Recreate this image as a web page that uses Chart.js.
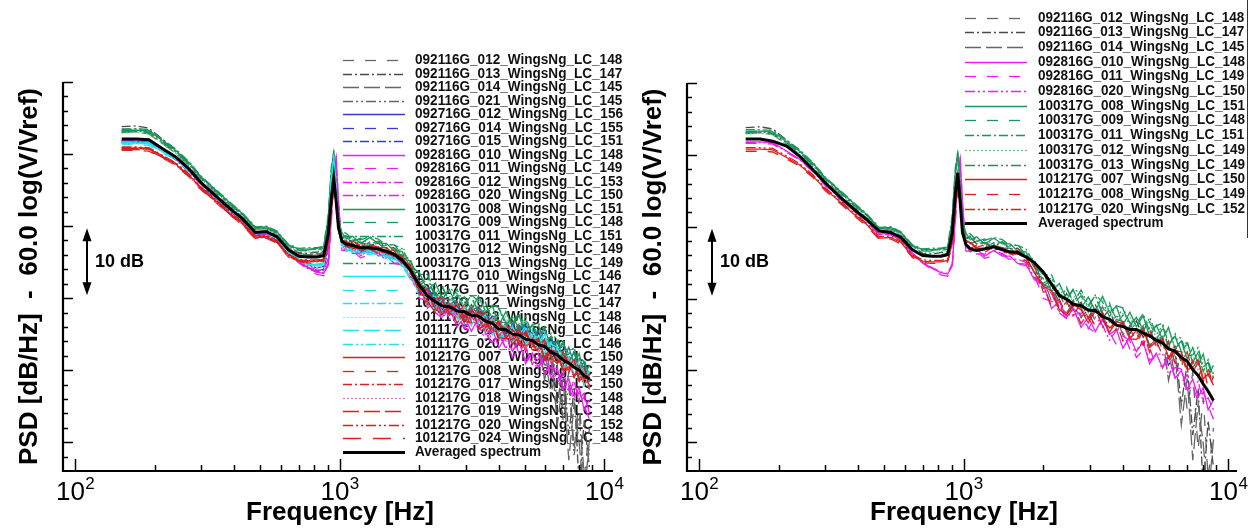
<!DOCTYPE html>
<html>
<head>
<meta charset="utf-8">
<title>PSD spectra</title>
<script src="https://cdn.jsdelivr.net/npm/chart.js@4.4.1/dist/chart.umd.min.js"></script>
<style>
  body { margin: 0; background: #fff; }
  #wrap { position: relative; width: 1251px; height: 532px; overflow: hidden; }
  #wrap canvas { position: absolute; top: 0; }
</style>
</head>
<body>
<div id="wrap">
  <canvas id="psd-left" width="625" height="532" style="left:0"></canvas>
  <canvas id="psd-right" width="626" height="532" style="left:625px"></canvas>
</div>
<script>
// --- Data (dB) ---
const FREQ = [
  150, 170, 190, 215, 240, 270, 300, 340, 380, 430,
  480, 530, 580, 640, 700, 760, 820, 870, 905, 930,
  950, 970, 990, 1020, 1060, 1120, 1200, 1300, 1400, 1500,
  1600, 1720, 1850, 2000, 2150, 2300, 2450, 2600, 2780, 2960,
  3150, 3350, 3560, 3780, 4000, 4250, 4500, 4770, 5050, 5350,
  5650, 5950, 6300, 6650, 7000, 7350, 7700, 8050, 8400, 8800
];

const AVG_LEFT = [
  52.1, 52.1, 52.0, 50.7, 49.6, 47.9, 46.0, 44.2, 42.6, 41.0,
  39.1, 39.2, 38.5, 36.7, 35.8, 35.7, 35.7, 35.9, 38.8, 43.8,
  46.7, 43.5, 39.8, 37.9, 37.5, 37.3, 37.0, 37.0, 36.8, 36.5,
  36.1, 35.3, 33.9, 31.8, 30.3, 29.5, 28.9, 28.8, 28.2, 28.1,
  27.6, 27.5, 26.8, 26.5, 25.7, 25.6, 25.0, 24.9, 24.3, 24.1,
  23.5, 23.3, 22.5, 22.1, 21.4, 21.0, 20.4, 20.0, 19.2, 18.8
];

const AVG_RIGHT = [
  52.2, 52.2, 51.9, 51.2, 49.8, 47.9, 46.1, 44.2, 42.6, 41.0,
  39.4, 39.2, 38.5, 36.8, 36.0, 35.9, 35.9, 36.1, 39.0, 44.5,
  47.5, 43.5, 39.2, 37.5, 36.9, 36.7, 36.9, 37.2, 36.8, 36.5,
  36.4, 35.8, 35.0, 33.7, 32.0, 30.4, 29.9, 29.2, 29.0, 28.4,
  28.3, 27.5, 27.1, 26.3, 26.1, 25.7, 25.7, 25.2, 24.8, 24.2,
  23.8, 23.0, 22.7, 21.8, 21.3, 20.1, 19.3, 18.1, 17.1, 15.8
];

const R092116G_012 = [
  53.2, 53.3, 53.0, 51.6, 50.3, 48.5, 46.6, 44.8, 43.0, 41.5,
  39.8, 39.6, 38.9, 37.0, 36.2, 36.0, 36.1, 36.3, 39.5, 44.6,
  47.3, 44.2, 40.3, 38.5, 37.6, 38.0, 37.0, 37.8, 37.0, 37.0,
  36.0, 35.9, 33.7, 32.8, 29.6, 30.7, 28.5, 29.8, 27.3, 28.8,
  26.9, 28.9, 26.7, 27.5, 24.9, 26.7, 24.7, 26.2, 23.3, 24.9,
  22.9, 24.1, 19.0, 22.4, 14.5, 19.8, 9.0, 16.2, 5.0, 12.0
];
const R092116G_013 = [
  53.8, 53.9, 53.6, 52.0, 50.6, 48.6, 46.8, 45.0, 43.1, 41.6,
  39.7, 39.8, 39.1, 37.3, 36.3, 36.2, 36.4, 36.5, 40.1, 45.3,
  47.8, 44.6, 40.6, 38.3, 38.5, 37.6, 37.7, 37.2, 37.8, 36.9,
  37.0, 35.7, 35.1, 31.4, 31.8, 29.4, 30.7, 28.4, 29.5, 27.2,
  29.1, 27.3, 28.5, 25.7, 26.8, 25.1, 26.9, 24.6, 25.9, 23.4,
  24.9, 20.5, 23.6, 15.2, 21.0, 11.0, 17.5, 3.5, 13.0, 6.5
];
const R092116G_014 = [
  53.0, 53.1, 52.8, 51.4, 50.1, 48.3, 46.5, 44.6, 42.9, 41.2,
  39.5, 39.4, 38.8, 36.9, 36.0, 35.9, 36.0, 36.1, 39.2, 44.2,
  47.0, 44.0, 40.2, 38.1, 37.9, 37.0, 37.0, 37.4, 37.1, 36.3,
  36.3, 35.8, 33.7, 32.0, 31.4, 28.8, 28.0, 29.5, 28.7, 26.9,
  28.6, 27.6, 25.6, 27.1, 26.8, 24.7, 24.6, 26.0, 23.5, 24.3,
  24.7, 18.6, 22.8, 12.4, 18.9, 7.5, 15.4, 9.8, 2.0, 10.4
];
const R092116G_021 = [
  53.4, 53.5, 53.3, 51.8, 50.4, 48.4, 46.7, 44.9, 43.2, 41.4,
  39.6, 39.7, 38.9, 37.1, 36.1, 36.0, 36.2, 36.4, 39.8, 45.0,
  47.5, 44.3, 40.4, 38.0, 38.0, 38.0, 37.0, 37.4, 37.6, 36.7,
  36.2, 36.0, 34.7, 31.1, 30.9, 30.6, 28.2, 29.2, 29.6, 27.6,
  27.1, 28.9, 27.3, 25.7, 26.9, 26.4, 24.2, 25.3, 25.8, 23.4,
  23.5, 21.9, 16.8, 20.6, 13.0, 17.9, 8.2, 14.0, 4.0, 9.0
];
const R092716G_012 = [
  51.6, 51.7, 51.5, 50.4, 49.3, 47.6, 45.8, 43.9, 42.3, 40.6,
  38.8, 38.9, 38.1, 36.2, 35.1, 34.6, 34.2, 34.4, 37.6, 44.5,
  48.0, 44.8, 40.0, 37.4, 37.6, 36.7, 36.8, 36.3, 36.9, 36.0,
  36.1, 34.8, 34.2, 30.9, 31.3, 28.9, 30.2, 27.9, 29.0, 26.7,
  28.6, 26.8, 28.0, 25.2, 26.3, 24.6, 26.4, 24.1, 26.4, 23.9,
  25.4, 22.9, 24.5, 22.3, 23.7, 20.9, 22.6, 20.1, 21.1, 18.4
];
const R092716G_014 = [
  51.9, 51.9, 51.8, 50.5, 49.4, 47.7, 45.9, 44.0, 42.4, 40.8,
  38.9, 39.0, 38.2, 36.3, 35.2, 34.3, 33.8, 34.0, 37.2, 44.0,
  47.6, 44.5, 39.8, 37.7, 37.5, 36.6, 36.6, 37.0, 36.7, 35.9,
  35.9, 35.4, 33.3, 32.4, 31.8, 29.2, 28.4, 29.9, 29.1, 27.3,
  29.0, 28.0, 26.0, 27.5, 27.2, 25.1, 25.0, 26.4, 24.5, 25.3,
  25.7, 23.0, 24.0, 23.9, 21.4, 21.7, 22.8, 19.9, 20.6, 19.0
];
const R092716G_015 = [
  51.7, 51.8, 51.6, 50.3, 49.2, 47.5, 45.7, 43.8, 42.2, 40.7,
  38.7, 38.8, 38.0, 36.1, 35.0, 34.1, 33.6, 33.9, 36.8, 43.6,
  47.4, 44.9, 40.3, 37.3, 37.3, 37.3, 36.3, 36.7, 36.9, 36.0,
  35.5, 35.3, 34.0, 30.8, 30.6, 30.3, 27.9, 28.9, 29.3, 27.3,
  26.8, 28.6, 27.0, 25.4, 26.6, 26.1, 23.9, 25.0, 26.5, 24.1,
  24.2, 25.5, 22.9, 22.2, 23.6, 22.2, 20.3, 21.6, 19.8, 20.6
];
const R092816G_010 = [
  51.8, 51.8, 51.7, 50.5, 49.4, 47.8, 45.9, 44.1, 42.5, 40.9,
  39.0, 39.0, 38.2, 36.3, 35.0, 34.2, 33.6, 33.4, 34.5, 41.0,
  47.5, 49.5, 43.0, 37.4, 36.5, 36.9, 35.9, 36.7, 35.9, 35.9,
  34.9, 34.8, 32.6, 32.0, 28.6, 29.6, 27.4, 28.6, 26.0, 27.4,
  25.4, 27.3, 25.0, 25.7, 23.1, 24.7, 22.6, 24.0, 20.9, 22.4,
  20.3, 22.0, 18.9, 20.0, 17.3, 18.8, 16.3, 17.6, 14.5, 15.9
];
const R092816G_011 = [
  51.6, 51.6, 51.5, 50.3, 49.3, 47.6, 45.7, 43.9, 42.3, 40.7,
  38.8, 38.9, 38.1, 36.2, 34.9, 34.0, 33.3, 33.1, 34.0, 40.2,
  47.0, 49.8, 43.6, 36.6, 36.6, 36.6, 35.6, 36.0, 36.2, 35.3,
  34.8, 34.6, 33.3, 30.0, 29.6, 29.2, 26.8, 27.7, 28.0, 25.9,
  25.3, 27.0, 25.3, 23.6, 24.8, 24.1, 21.8, 22.8, 23.1, 20.6,
  20.6, 21.7, 19.1, 18.2, 19.4, 17.8, 15.7, 17.0, 15.1, 13.2
];
const R092816G_012 = [
  51.9, 52.0, 51.9, 50.6, 49.5, 47.8, 45.9, 44.0, 42.4, 40.8,
  38.9, 39.0, 38.3, 36.4, 35.2, 34.5, 33.9, 33.8, 35.5, 42.2,
  48.0, 48.6, 42.4, 37.1, 37.3, 36.4, 36.5, 36.0, 36.6, 35.7,
  35.8, 34.5, 33.9, 30.5, 30.7, 28.2, 29.5, 27.1, 28.1, 25.7,
  27.5, 25.6, 26.7, 23.8, 24.9, 23.0, 24.7, 22.3, 23.4, 20.8,
  22.2, 19.5, 21.0, 18.7, 19.9, 16.9, 18.4, 15.9, 16.8, 14.0
];
const R092816G_020 = [
  51.7, 51.7, 51.6, 50.4, 49.3, 47.7, 45.8, 44.0, 42.4, 40.8,
  38.9, 38.9, 38.2, 36.3, 35.1, 34.3, 33.7, 33.5, 34.8, 41.5,
  47.2, 49.0, 43.2, 37.3, 37.1, 36.2, 36.2, 36.6, 36.3, 35.5,
  35.5, 35.0, 32.9, 31.5, 30.7, 28.0, 27.2, 28.6, 27.7, 25.8,
  27.4, 26.3, 24.2, 25.6, 25.3, 23.0, 22.8, 24.1, 21.4, 22.1,
  22.4, 19.5, 20.4, 20.2, 17.5, 17.6, 18.5, 15.6, 16.2, 14.5
];
const R100317G_008 = [
  53.3, 53.3, 53.2, 51.8, 50.5, 48.8, 46.8, 45.0, 43.4, 41.7,
  39.8, 39.9, 39.2, 37.4, 36.8, 36.8, 36.9, 37.1, 41.0, 47.5,
  50.5, 46.0, 40.8, 39.1, 38.2, 38.6, 37.6, 38.4, 37.6, 37.6,
  36.6, 36.5, 34.3, 33.6, 31.0, 32.1, 29.9, 31.2, 28.7, 30.2,
  28.3, 30.3, 28.1, 28.9, 26.3, 28.1, 26.1, 27.6, 24.7, 26.3,
  24.3, 26.0, 23.0, 24.1, 21.6, 23.2, 20.8, 22.3, 19.2, 20.7
];
const R100317G_009 = [
  53.0, 53.1, 52.9, 51.5, 50.2, 48.5, 46.6, 44.8, 43.1, 41.5,
  39.6, 39.7, 39.0, 37.2, 36.6, 36.6, 36.7, 36.9, 40.5, 46.8,
  49.8, 45.6, 40.6, 38.4, 38.6, 37.7, 37.8, 37.3, 37.9, 37.0,
  37.1, 35.8, 35.2, 31.7, 32.7, 30.3, 31.6, 29.3, 30.4, 28.1,
  30.0, 28.2, 29.4, 26.6, 27.7, 26.0, 27.8, 25.5, 26.8, 24.3,
  25.8, 23.1, 24.7, 22.4, 23.8, 20.9, 22.5, 20.2, 21.1, 18.4
];
const R100317G_011 = [
  53.5, 53.5, 53.4, 52.0, 50.7, 48.9, 46.9, 45.1, 43.5, 41.8,
  39.9, 40.0, 39.3, 37.5, 36.9, 37.0, 37.0, 37.2, 41.5, 48.2,
  50.2, 45.4, 40.5, 39.2, 39.0, 38.1, 38.1, 38.5, 38.2, 37.4,
  37.4, 36.9, 34.8, 33.3, 33.3, 30.7, 29.9, 31.4, 30.6, 28.8,
  30.5, 29.5, 27.5, 29.0, 28.7, 26.6, 26.5, 27.9, 25.4, 26.2,
  26.6, 23.7, 24.7, 24.5, 22.0, 22.2, 23.2, 20.5, 21.1, 19.5
];
const R100317G_012 = [
  52.9, 53.0, 52.8, 51.4, 50.1, 48.4, 46.5, 44.7, 43.0, 41.4,
  39.5, 39.6, 38.9, 37.1, 36.5, 36.4, 36.5, 36.7, 40.0, 46.0,
  49.2, 45.2, 40.4, 38.2, 38.2, 38.2, 37.2, 37.6, 37.8, 36.9,
  36.4, 36.2, 34.9, 31.5, 31.9, 31.6, 29.2, 30.2, 30.6, 28.6,
  28.1, 29.9, 28.3, 26.7, 27.9, 27.4, 25.2, 26.3, 26.8, 24.4,
  24.5, 25.6, 23.1, 22.2, 23.6, 22.1, 20.1, 21.6, 19.7, 20.5
];
const R100317G_013 = [
  53.1, 53.2, 53.0, 51.6, 50.3, 48.6, 46.7, 44.9, 43.2, 41.6,
  39.7, 39.8, 39.1, 37.3, 36.7, 36.7, 36.8, 37.0, 40.7, 47.2,
  50.0, 45.8, 40.7, 38.6, 38.7, 37.9, 38.3, 37.5, 37.9, 37.3,
  37.5, 36.0, 35.4, 32.1, 32.9, 30.0, 31.4, 29.5, 31.2, 29.1,
  30.4, 27.8, 29.0, 27.2, 28.6, 26.2, 27.4, 25.3, 27.4, 25.0,
  26.2, 23.3, 25.1, 22.6, 24.1, 21.1, 22.5, 19.8, 21.5, 19.0
];
const R101117G_010 = [
  51.5, 51.5, 51.4, 50.3, 49.4, 47.8, 45.9, 44.1, 42.5, 40.9,
  39.0, 39.1, 38.3, 36.4, 35.3, 34.8, 34.6, 34.8, 38.2, 46.5,
  49.2, 45.0, 39.8, 37.1, 37.3, 36.4, 36.5, 36.0, 36.6, 35.7,
  35.8, 34.5, 33.9, 30.3, 31.0, 28.6, 29.9, 27.6, 28.7, 26.4,
  28.3, 26.5, 27.7, 24.9, 26.0, 24.3, 26.1, 23.8, 25.8, 23.3,
  24.8, 22.3, 23.9, 21.7, 22.5, 19.7, 21.4, 19.1, 20.1, 17.4
];
const R101117G_011 = [
  51.3, 51.3, 51.2, 50.1, 49.2, 47.6, 45.8, 44.0, 42.4, 40.8,
  38.9, 39.0, 38.2, 36.3, 35.2, 34.6, 34.4, 34.6, 37.8, 45.8,
  48.8, 44.6, 39.6, 37.4, 36.5, 36.9, 35.9, 36.7, 35.9, 35.9,
  34.9, 34.8, 32.6, 31.8, 28.9, 30.0, 27.8, 29.1, 26.6, 28.1,
  26.2, 28.2, 26.0, 26.8, 24.2, 26.0, 24.0, 25.5, 23.3, 24.9,
  22.9, 24.8, 21.8, 23.0, 19.9, 21.6, 19.3, 20.8, 17.8, 19.3
];
const R101117G_012 = [
  51.6, 51.6, 51.5, 50.4, 49.5, 47.9, 46.0, 44.2, 42.6, 41.0,
  39.1, 39.2, 38.4, 36.5, 35.4, 34.9, 34.7, 34.9, 38.5, 46.9,
  49.5, 45.3, 40.0, 37.2, 37.2, 37.2, 36.2, 36.6, 36.8, 35.9,
  35.4, 35.2, 33.9, 30.4, 30.5, 30.2, 27.8, 28.8, 29.2, 27.2,
  26.7, 28.5, 26.9, 25.3, 26.5, 26.0, 23.8, 24.9, 26.1, 23.7,
  23.8, 25.1, 22.6, 21.8, 22.6, 21.2, 19.3, 20.8, 19.0, 19.8
];
const R101117G_013 = [
  51.4, 51.4, 51.3, 50.2, 49.3, 47.7, 45.8, 44.0, 42.4, 40.8,
  38.9, 39.0, 38.2, 36.3, 35.2, 34.5, 34.3, 34.5, 37.5, 45.2,
  48.6, 44.9, 39.9, 37.1, 36.9, 36.0, 36.0, 36.4, 36.1, 35.3,
  35.3, 34.8, 32.7, 31.1, 30.8, 28.2, 27.4, 28.9, 28.1, 26.3,
  28.0, 27.0, 25.0, 26.5, 26.2, 24.1, 24.0, 25.4, 23.6, 24.4,
  24.8, 22.1, 23.1, 23.0, 19.9, 20.2, 21.3, 18.6, 19.3, 17.7
];
const R101117G_014 = [
  51.5, 51.6, 51.4, 50.3, 49.4, 47.8, 45.9, 44.1, 42.5, 40.9,
  39.0, 39.1, 38.3, 36.4, 35.3, 34.7, 34.5, 34.7, 38.0, 46.2,
  49.0, 45.1, 40.1, 37.6, 36.6, 37.1, 36.4, 36.9, 35.9, 36.2,
  35.3, 35.0, 32.8, 32.2, 29.1, 29.7, 27.6, 29.3, 27.4, 29.1,
  26.6, 27.8, 25.6, 27.4, 25.1, 26.2, 23.6, 25.3, 23.9, 25.6,
  23.3, 25.0, 22.2, 23.2, 20.2, 21.8, 19.3, 20.4, 18.2, 19.9
];
const R101117G_020 = [
  51.7, 51.7, 51.6, 50.4, 49.5, 47.9, 46.0, 44.2, 42.6, 41.0,
  39.1, 39.1, 38.3, 36.4, 35.4, 34.8, 34.6, 34.8, 38.3, 46.0,
  48.9, 44.8, 39.7, 37.6, 36.8, 36.4, 36.8, 36.4, 35.8, 36.1,
  35.8, 34.4, 32.9, 32.2, 29.7, 28.2, 29.8, 28.2, 27.0, 28.4,
  28.3, 25.9, 26.5, 27.1, 24.7, 24.6, 26.0, 24.3, 23.7, 25.3,
  24.4, 22.3, 23.6, 23.2, 20.2, 20.4, 21.5, 18.8, 19.4, 17.6
];
const R101217G_007 = [
  50.8, 50.8, 50.7, 49.6, 48.6, 47.0, 45.2, 43.5, 41.9, 40.3,
  38.4, 38.5, 37.8, 35.9, 35.2, 35.1, 35.1, 35.3, 37.6, 42.6,
  45.5, 43.2, 39.6, 38.0, 37.8, 36.9, 36.9, 37.3, 37.0, 36.2,
  36.2, 35.7, 33.6, 31.7, 31.1, 28.5, 27.7, 29.2, 28.4, 26.6,
  28.3, 27.3, 25.3, 26.8, 26.5, 24.4, 24.3, 25.7, 23.2, 24.0,
  24.4, 21.7, 22.7, 22.6, 20.1, 20.4, 21.5, 18.8, 19.5, 17.9
];
const R101217G_008 = [
  50.5, 50.5, 50.4, 49.4, 48.4, 46.8, 45.0, 43.3, 41.7, 40.1,
  38.2, 38.3, 37.6, 35.7, 35.0, 34.9, 34.9, 35.1, 37.3, 42.2,
  45.2, 43.0, 39.4, 37.9, 37.0, 37.4, 36.4, 37.2, 36.4, 36.4,
  35.4, 35.3, 33.1, 32.0, 28.8, 29.9, 27.7, 29.0, 26.5, 28.0,
  26.1, 28.1, 25.9, 26.7, 24.1, 25.9, 23.9, 25.4, 22.5, 24.1,
  22.1, 24.0, 21.0, 22.2, 19.7, 21.4, 19.1, 20.6, 17.6, 19.1
];
const R101217G_017 = [
  50.9, 50.9, 50.8, 49.7, 48.7, 47.1, 45.3, 43.6, 42.0, 40.4,
  38.5, 38.6, 37.9, 36.0, 35.3, 35.2, 35.2, 35.4, 37.8, 43.0,
  45.9, 43.4, 39.7, 38.0, 37.4, 37.9, 37.3, 36.9, 36.8, 37.0,
  36.2, 35.1, 34.4, 31.5, 29.1, 29.9, 29.9, 27.8, 27.8, 29.0,
  26.7, 27.1, 28.1, 25.6, 24.7, 26.2, 25.5, 23.5, 25.2, 23.6,
  22.4, 24.3, 22.1, 21.0, 22.5, 21.0, 19.1, 20.6, 18.7, 19.3
];
const R101217G_018 = [
  50.6, 50.7, 50.6, 49.5, 48.5, 46.9, 45.1, 43.4, 41.8, 40.2,
  38.3, 38.4, 37.7, 35.8, 35.1, 35.0, 35.0, 35.2, 37.4, 42.4,
  45.4, 43.1, 39.5, 38.0, 37.0, 37.5, 36.8, 37.3, 36.3, 36.6,
  35.7, 35.4, 33.2, 32.3, 28.9, 29.5, 27.4, 29.1, 27.2, 28.9,
  26.4, 27.6, 25.4, 27.2, 24.9, 26.0, 23.4, 25.1, 23.0, 24.7,
  22.4, 24.1, 21.3, 22.3, 19.9, 21.5, 19.0, 20.1, 17.9, 19.6
];
const R101217G_019 = [
  50.7, 50.8, 50.7, 49.6, 48.6, 47.0, 45.2, 43.5, 41.9, 40.3,
  38.4, 38.5, 37.8, 35.9, 35.2, 35.1, 35.1, 35.3, 37.5, 42.5,
  45.6, 43.3, 39.6, 37.6, 37.6, 37.6, 36.6, 37.0, 37.2, 36.3,
  35.8, 35.6, 34.3, 30.5, 30.3, 30.0, 27.6, 28.6, 29.0, 27.0,
  26.5, 28.3, 26.7, 25.1, 26.3, 25.8, 23.6, 24.7, 25.2, 22.8,
  22.9, 24.2, 21.7, 20.9, 22.3, 20.9, 19.0, 20.5, 18.7, 19.5
];
const R101217G_020 = [
  51.0, 51.0, 50.9, 49.8, 48.8, 47.2, 45.4, 43.7, 42.1, 40.5,
  38.6, 38.7, 38.0, 36.1, 35.4, 35.3, 35.3, 35.5, 37.9, 43.2,
  46.1, 43.6, 39.8, 37.8, 37.9, 37.1, 37.5, 36.7, 37.1, 36.5,
  36.7, 35.2, 34.6, 30.9, 31.1, 28.2, 29.6, 27.7, 29.4, 27.3,
  28.6, 26.0, 27.2, 25.4, 26.8, 24.4, 25.6, 23.5, 25.6, 23.2,
  24.4, 21.7, 23.5, 21.1, 22.6, 19.7, 21.2, 18.5, 20.3, 17.8
];
const R101217G_024 = [
  50.6, 50.6, 50.5, 49.5, 48.5, 46.9, 45.1, 43.4, 41.8, 40.2,
  38.3, 38.4, 37.7, 35.8, 35.1, 35.0, 35.0, 35.2, 37.2, 42.0,
  45.0, 42.9, 39.3, 38.0, 37.2, 36.8, 37.2, 36.8, 36.2, 36.5,
  36.2, 34.8, 33.3, 32.3, 29.5, 28.0, 29.6, 28.0, 26.8, 28.2,
  28.1, 25.7, 26.3, 26.9, 24.5, 24.4, 25.8, 24.1, 22.8, 24.4,
  23.5, 21.4, 22.7, 22.3, 19.9, 20.1, 21.2, 18.5, 19.1, 17.3
];

// Runs shown in each panel (legend text, values)
const LEFT_RUNS = [
  ['092116G_012_WingsNg_LC_148', R092116G_012],
  ['092116G_013_WingsNg_LC_147', R092116G_013],
  ['092116G_014_WingsNg_LC_145', R092116G_014],
  ['092116G_021_WingsNg_LC_145', R092116G_021],
  ['092716G_012_WingsNg_LC_156', R092716G_012],
  ['092716G_014_WingsNg_LC_155', R092716G_014],
  ['092716G_015_WingsNg_LC_151', R092716G_015],
  ['092816G_010_WingsNg_LC_148', R092816G_010],
  ['092816G_011_WingsNg_LC_149', R092816G_011],
  ['092816G_012_WingsNg_LC_153', R092816G_012],
  ['092816G_020_WingsNg_LC_150', R092816G_020],
  ['100317G_008_WingsNg_LC_151', R100317G_008],
  ['100317G_009_WingsNg_LC_148', R100317G_009],
  ['100317G_011_WingsNg_LC_151', R100317G_011],
  ['100317G_012_WingsNg_LC_149', R100317G_012],
  ['100317G_013_WingsNg_LC_149', R100317G_013],
  ['101117G_010_WingsNg_LC_146', R101117G_010],
  ['101117G_011_WingsNg_LC_147', R101117G_011],
  ['101117G_012_WingsNg_LC_147', R101117G_012],
  ['101117G_013_WingsNg_LC_148', R101117G_013],
  ['101117G_014_WingsNg_LC_146', R101117G_014],
  ['101117G_020_WingsNg_LC_146', R101117G_020],
  ['101217G_007_WingsNg_LC_150', R101217G_007],
  ['101217G_008_WingsNg_LC_149', R101217G_008],
  ['101217G_017_WingsNg_LC_150', R101217G_017],
  ['101217G_018_WingsNg_LC_148', R101217G_018],
  ['101217G_019_WingsNg_LC_148', R101217G_019],
  ['101217G_020_WingsNg_LC_152', R101217G_020],
  ['101217G_024_WingsNg_LC_148', R101217G_024]
];

const RIGHT_RUNS = [
  ['092116G_012_WingsNg_LC_148', R092116G_012],
  ['092116G_013_WingsNg_LC_147', R092116G_013],
  ['092116G_014_WingsNg_LC_145', R092116G_014],
  ['092816G_010_WingsNg_LC_148', R092816G_010],
  ['092816G_011_WingsNg_LC_149', R092816G_011],
  ['092816G_020_WingsNg_LC_150', R092816G_020],
  ['100317G_008_WingsNg_LC_151', R100317G_008],
  ['100317G_009_WingsNg_LC_148', R100317G_009],
  ['100317G_011_WingsNg_LC_151', R100317G_011],
  ['100317G_012_WingsNg_LC_149', R100317G_012],
  ['100317G_013_WingsNg_LC_149', R100317G_013],
  ['101217G_007_WingsNg_LC_150', R101217G_007],
  ['101217G_008_WingsNg_LC_149', R101217G_008],
  ['101217G_020_WingsNg_LC_152', R101217G_020]
];

// --- Line styles ---
const GRAY = '#666666', BLUE = '#3a3ad2', MAGENTA = '#ee1cee', GREEN = '#15985a', CYAN = '#1ee4ec', RED = '#dc1e1e';
const SOLID = [], DASHED = [11, 11], DASHDOT = [9, 3, 2, 3], LONGDASH = [16, 5],
      DASHDOTDOT = [10, 3, 2, 3, 2, 3], DOTTED = [2, 2], GAPDASH = [18, 12];

const LINE_STYLE = {
  '092116G_012': [GRAY, DASHED], '092116G_013': ['#4a4a4a', DASHDOT], '092116G_014': [GRAY, LONGDASH], '092116G_021': [GRAY, DASHDOTDOT],
  '092716G_012': [BLUE, SOLID], '092716G_014': [BLUE, DASHED], '092716G_015': [BLUE, DASHDOT],
  '092816G_010': [MAGENTA, SOLID], '092816G_011': [MAGENTA, DASHED], '092816G_012': [MAGENTA, DASHDOT], '092816G_020': [MAGENTA, DASHDOTDOT],
  '100317G_008': [GREEN, SOLID], '100317G_009': [GREEN, DASHED], '100317G_011': [GREEN, DASHDOT], '100317G_012': ['#6cc49a', DOTTED], '100317G_013': [GREEN, DASHDOTDOT],
  '101117G_010': [CYAN, SOLID], '101117G_011': [CYAN, DASHED], '101117G_012': [CYAN, DASHDOT], '101117G_013': ['#8ff0f4', DOTTED], '101117G_014': [CYAN, LONGDASH], '101117G_020': [CYAN, DASHDOTDOT],
  '101217G_007': [RED, SOLID], '101217G_008': [RED, DASHED], '101217G_017': [RED, DASHDOT], '101217G_018': ['#e87a92', DOTTED], '101217G_019': [RED, LONGDASH], '101217G_020': [RED, DASHDOTDOT], '101217G_024': [RED, GAPDASH]
};

const FONT = '"Liberation Sans", Arial, Helvetica, sans-serif';

/**
 * Builds the datasets for one panel: one thin line per run, then the thick average.
 */
function buildDatasets(runs, avg) {
  const n = runs.length;
  const sets = runs.map(([label, values], i) => {
    const [color, dash] = LINE_STYLE[label.slice(0, 11)];
    return {
      label,
      data: values.map((v, k) => ({ x: FREQ[k], y: v })),
      borderColor: color,
      borderDash: dash,
      borderWidth: 1.3,
      pointRadius: 0,
      tension: 0,
      order: n - i // later runs drawn on top
    };
  });
  sets.push({
    label: 'Averaged spectrum',
    data: avg.map((v, k) => ({ x: FREQ[k], y: v })),
    borderColor: '#000',
    borderDash: [],
    borderWidth: 3,
    pointRadius: 0,
    tension: 0,
    order: 0
  });
  return sets;
}

/**
 * Legend drawn under the curves (the spectra run over the text in the figure).
 */
function drawLegend(chart, lg) {
  const ctx = chart.ctx;
  const sets = chart.data.datasets;
  ctx.save();
  ctx.font = `bold ${lg.fontSize}px ${FONT}`;
  const widest = Math.max(...sets.map(d => ctx.measureText(d.label).width));
  const sx = lg.textWidth / widest;
  sets.forEach((d, i) => {
    const yy = Math.round(lg.y + i * lg.step) + 0.5;
    ctx.strokeStyle = d.borderColor;
    ctx.lineWidth = d.borderWidth > 2 ? 3 : 1.3;
    ctx.setLineDash(d.borderDash || []);
    ctx.beginPath();
    ctx.moveTo(lg.lineX0, yy);
    ctx.lineTo(lg.lineX1, yy);
    ctx.stroke();
    ctx.setLineDash([]);
    ctx.save();
    ctx.translate(lg.textX, yy);
    ctx.scale(sx, 1);
    ctx.fillStyle = '#111';
    ctx.textBaseline = 'middle';
    ctx.fillText(d.label, 0, 0);
    ctx.restore();
  });
  ctx.restore();
}

/**
 * Axes with inward ticks, decade labels, titles and the 10 dB marker.
 */
function drawAxes(chart, cfg) {
  const { ctx, chartArea: a } = chart;
  const xs = chart.scales.x, ys = chart.scales.y;
  ctx.save();
  ctx.strokeStyle = '#000';
  ctx.fillStyle = '#000';

  // y ticks every 2 dB, long every 10 dB
  ctx.lineWidth = 1.5;
  for (let v = 8; v <= 60; v += 2) {
    const py = Math.round(ys.getPixelForValue(v)) + 0.5;
    const len = v % 10 === 0 ? 10 : 5;
    ctx.beginPath();
    ctx.moveTo(a.left, py);
    ctx.lineTo(a.left + len, py);
    ctx.stroke();
  }
  // x ticks
  [100, 1000, 10000].forEach(dec => {
    for (let m = 1; m <= 9; m++) {
      const f = m * dec;
      if (f > xs.max) break;
      const px = Math.round(xs.getPixelForValue(f)) + 0.5;
      const len = m === 1 ? 12 : 6;
      ctx.beginPath();
      ctx.moveTo(px, a.bottom);
      ctx.lineTo(px, a.bottom - len);
      ctx.stroke();
    }
  });
  // axis lines
  ctx.lineWidth = 2.2;
  ctx.beginPath();
  ctx.moveTo(a.left, a.top);
  ctx.lineTo(a.left, a.bottom);
  ctx.lineTo(a.right, a.bottom);
  ctx.stroke();

  // decade labels 10^n
  [2, 3, 4].forEach(p => {
    const px = xs.getPixelForValue(Math.pow(10, p));
    ctx.font = `26px ${FONT}`;
    const wBase = ctx.measureText('10').width;
    ctx.font = `17px ${FONT}`;
    const wExp = ctx.measureText(String(p)).width;
    const x0 = px - (wBase + wExp) / 2;
    ctx.textBaseline = 'alphabetic';
    ctx.textAlign = 'left';
    ctx.font = `26px ${FONT}`;
    ctx.fillText('10', x0, 500);
    ctx.font = `17px ${FONT}`;
    ctx.fillText(String(p), x0 + wBase + 0.5, 489);
  });

  // titles
  ctx.font = `bold 26px ${FONT}`;
  ctx.textAlign = 'center';
  ctx.fillText('Frequency [Hz]', (a.left + a.right) / 2 + 2, 520);
  ctx.save();
  ctx.translate(cfg.yTitleX, (a.top + a.bottom) / 2);
  ctx.rotate(-Math.PI / 2);
  ctx.fillText('PSD [dB/Hz]  -  60.0 log(V/Vref)', 0, 0);
  ctx.restore();

  // 10 dB marker
  const ax = a.left + cfg.arrowDx;
  const top = ys.getPixelForValue(cfg.arrowTop);
  const bot = top + 67;
  ctx.lineWidth = 2;
  ctx.beginPath();
  ctx.moveTo(ax, top + 8);
  ctx.lineTo(ax, bot - 8);
  ctx.stroke();
  [[top, 1], [bot, -1]].forEach(([tip, dir]) => {
    ctx.beginPath();
    ctx.moveTo(ax, tip);
    ctx.lineTo(ax - 4.5, tip + dir * 13);
    ctx.lineTo(ax + 4.5, tip + dir * 13);
    ctx.closePath();
    ctx.fill();
  });
  ctx.font = `bold 18px ${FONT}`;
  ctx.textAlign = 'left';
  ctx.textBaseline = 'middle';
  ctx.fillText('10 dB', ax + 8, (top + bot) / 2);

  if (cfg.edgeLineX) {
    ctx.lineWidth = 1;
    ctx.strokeStyle = '#333';
    ctx.beginPath();
    ctx.moveTo(cfg.edgeLineX + 0.5, 0);
    ctx.lineTo(cfg.edgeLineX + 0.5, cfg.edgeLineBottom);
    ctx.stroke();
  }
  ctx.restore();
}

/**
 * Creates one spectrum panel on the given canvas.
 */
function makePanel(canvasId, runs, avg, cfg) {
  const ctx = document.getElementById(canvasId).getContext('2d');
  return new Chart(ctx, {
    type: 'line',
    data: { datasets: buildDatasets(runs, avg) },
    options: {
      responsive: false,
      animation: false,
      devicePixelRatio: 1,
      layout: { padding: cfg.padding },
      scales: {
        x: { type: 'logarithmic', min: 90, max: 10800, display: false },
        y: { type: 'linear', min: 6, max: 60, display: false }
      },
      plugins: { legend: { display: false }, tooltip: { enabled: false } }
    },
    plugins: [{
      id: 'psdDecor',
      beforeDatasetsDraw: chart => drawLegend(chart, cfg.legend),
      afterDraw: chart => drawAxes(chart, cfg)
    }]
  });
}

makePanel('psd-left', LEFT_RUNS, AVG_LEFT, {
  padding: { left: 63, right: 12, top: 82, bottom: 61 },
  legend: { y: 60, step: 13.5, lineX0: 343, lineX1: 405, textX: 415, textWidth: 208, fontSize: 14 },
  yTitleX: 37,
  arrowDx: 24,
  arrowTop: 39.7
});

makePanel('psd-right', RIGHT_RUNS, AVG_RIGHT, {
  padding: { left: 62, right: 14, top: 83, bottom: 61 },
  legend: { y: 17.5, step: 14.7, lineX0: 340, lineX1: 402, textX: 413, textWidth: 207, fontSize: 14 },
  yTitleX: 36,
  arrowDx: 25,
  arrowTop: 39.7,
  edgeLineX: 622,
  edgeLineBottom: 238
});
</script>
</body>
</html>
